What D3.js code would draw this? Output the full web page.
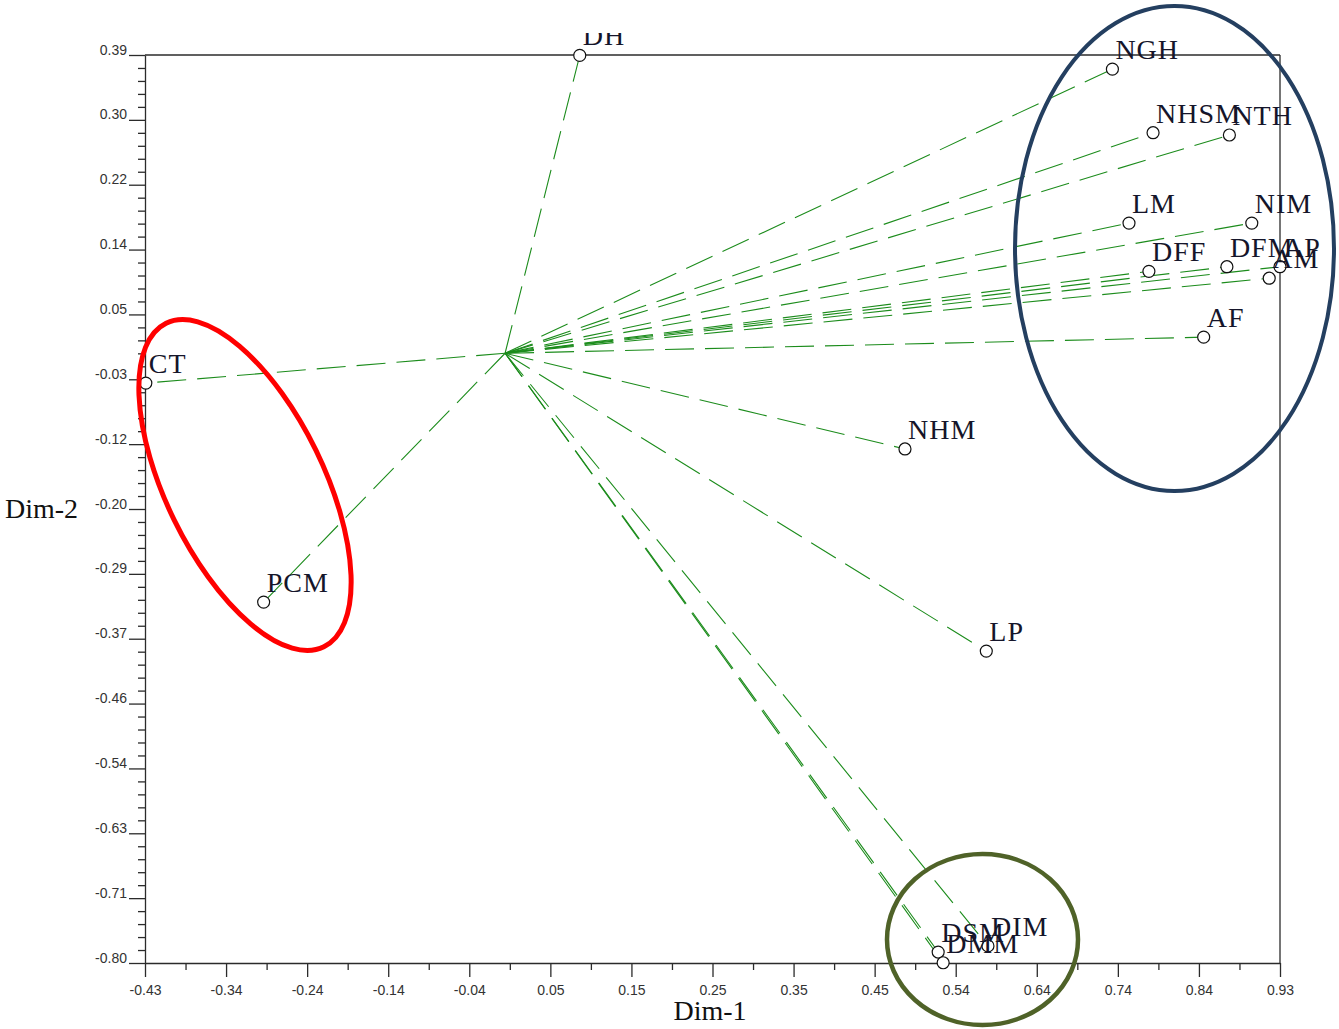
<!DOCTYPE html>
<html>
<head>
<meta charset="utf-8">
<script src="https://cdn.jsdelivr.net/npm/d3@7"></script>
<style>
  html, body { margin: 0; padding: 0; background: #fff; }
  svg { display: block; }
</style>
</head>
<body>
<svg id="chart" width="1339" height="1029"></svg>
<script>
// Variable coordinates on the first two dimensions
const varNames = ["DH", "NGH", "NHSM", "NTH", "LM", "NIM", "DFF", "DFM", "AP", "AM",
                  "AF", "CT", "NHM", "PCM", "LP", "DSM", "DMM", "DIM"];
const dim1 = [0.090, 0.732, 0.781, 0.873, 0.752, 0.900, 0.776, 0.870, 0.934, 0.921,
              0.842, -0.433, 0.482, -0.291, 0.580, 0.522, 0.528, 0.582];
const dim2 = [0.389, 0.371, 0.288, 0.285, 0.170, 0.170, 0.107, 0.113, 0.113, 0.098,
              0.021, -0.039, -0.125, -0.325, -0.389, -0.782, -0.796, -0.774];

// Axis extents and tick labels
const xDomain = [-0.434, 0.934];
const yDomain = [-0.7963, 0.3895];
const xTickLabels = ["-0.43", "-0.34", "-0.24", "-0.14", "-0.04", "0.05", "0.15", "0.25",
                     "0.35", "0.45", "0.54", "0.64", "0.74", "0.84", "0.93"];
const yTickLabels = ["-0.80", "-0.71", "-0.63", "-0.54", "-0.46", "-0.37", "-0.29", "-0.20",
                     "-0.12", "-0.03", "0.05", "0.14", "0.22", "0.30", "0.39"];

const svg = d3.select("#chart");
const plotLeft = 145, plotRight = 1280, plotTop = 55, plotBottom = 963;

const x = d3.scaleLinear().domain(xDomain).range([plotLeft, plotRight]);
const y = d3.scaleLinear().domain(yDomain).range([plotBottom, plotTop]);

const nX = xTickLabels.length - 1, nY = yTickLabels.length - 1;
const xStep = (xDomain[1] - xDomain[0]) / nX;
const yStep = (yDomain[1] - yDomain[0]) / nY;
const xMajor = d3.range(nX + 1).map(i => xDomain[0] + i * xStep);
const yMajor = d3.range(nY + 1).map(i => yDomain[0] + i * yStep);
const xMinor = d3.range(nX).map(i => xDomain[0] + (i + 0.5) * xStep);
const yMinor = [];
d3.range(nY).forEach(i => { for (let k = 1; k <= 4; k++) yMinor.push(yDomain[0] + (i + k / 5) * yStep); });

const axisColor = "#2b2b2b";

// Frame: top and right borders
svg.append("line").attr("x1", plotLeft).attr("x2", plotRight).attr("y1", plotTop).attr("y2", plotTop)
  .attr("stroke", axisColor).attr("stroke-width", 1.3);
svg.append("line").attr("x1", plotRight).attr("x2", plotRight).attr("y1", plotTop).attr("y2", plotBottom)
  .attr("stroke", axisColor).attr("stroke-width", 1.3);

// Bottom axis
const gx = svg.append("g").attr("transform", `translate(0,${plotBottom})`);
gx.call(d3.axisBottom(x).tickValues(xMajor).tickSize(14).tickSizeOuter(0)
  .tickFormat((d, i) => xTickLabels[i]));
gx.append("g").call(d3.axisBottom(x).tickValues(xMinor).tickSize(7).tickSizeOuter(0).tickFormat(""))
  .select(".domain").remove();

// Left axis
const gy = svg.append("g").attr("transform", `translate(${plotLeft},0)`);
gy.call(d3.axisLeft(y).tickValues(yMajor).tickSize(16).tickSizeOuter(0).tickPadding(2)
  .tickFormat((d, i) => yTickLabels[i]));
gy.append("g").call(d3.axisLeft(y).tickValues(yMinor).tickSize(7).tickSizeOuter(0).tickFormat(""))
  .select(".domain").remove();

svg.selectAll(".domain, .tick line").attr("stroke", axisColor).attr("stroke-width", 1.3);
svg.selectAll(".tick text").attr("font-family", "'Liberation Sans', Arial, sans-serif")
  .attr("font-size", 14).attr("fill", "#333");
gx.selectAll(".tick text").attr("y", 22).attr("dy", "0.71em");
gy.selectAll(".tick text").attr("dy", "-1");

// Axis titles
svg.append("text").attr("x", 710).attr("y", 1020).attr("text-anchor", "middle")
  .attr("font-family", "'Liberation Serif', 'Times New Roman', serif").attr("font-size", 28)
  .attr("fill", "#111").text("Dim-1");
svg.append("text").attr("x", 5).attr("y", 518)
  .attr("font-family", "'Liberation Serif', 'Times New Roman', serif").attr("font-size", 28)
  .attr("fill", "#111").text("Dim-2");

const data = varNames.map((n, i) => ({ name: n, d1: dim1[i], d2: dim2[i] }));

// Vectors from the origin
svg.append("g").selectAll("line").data(data).join("line")
  .attr("x1", x(0)).attr("y1", y(0))
  .attr("x2", d => x(d.d1)).attr("y2", d => y(d.d2))
  .attr("stroke", "#1c8c1c").attr("stroke-width", 1.1)
  .attr("stroke-dasharray", "29,11");

// Variable markers
svg.append("g").selectAll("circle").data(data).join("circle")
  .attr("cx", d => x(d.d1)).attr("cy", d => y(d.d2)).attr("r", 6)
  .attr("fill", "#fff").attr("stroke", "#111").attr("stroke-width", 1.2);

// Variable labels
svg.append("clipPath").attr("id", "labelClip")
  .append("rect").attr("x", 0).attr("y", 33).attr("width", 1339).attr("height", 996);
svg.append("g").attr("clip-path", "url(#labelClip)")
  .selectAll("text").data(data).join("text")
  .attr("x", d => x(d.d1) + 3).attr("y", d => y(d.d2) - 10)
  .attr("font-family", "'Liberation Serif', 'Times New Roman', serif")
  .attr("font-size", 28).attr("letter-spacing", 1).attr("fill", "#15152a")
  .text(d => d.name);

// Group outlines
const groups = svg.append("g").attr("fill", "none");
groups.append("ellipse").attr("cx", 0).attr("cy", 0).attr("rx", 180).attr("ry", 79)
  .attr("transform", "translate(245,485) rotate(64)")
  .attr("stroke", "#ff0000").attr("stroke-width", 5);
groups.append("ellipse").attr("cx", 1174.5).attr("cy", 248.5).attr("rx", 159.5).attr("ry", 242.5)
  .attr("stroke", "#243f60").attr("stroke-width", 4);
groups.append("ellipse").attr("cx", 982.5).attr("cy", 939.5).attr("rx", 95.5).attr("ry", 85.5)
  .attr("stroke", "#4f6228").attr("stroke-width", 4.5);
</script>
</body>
</html>
